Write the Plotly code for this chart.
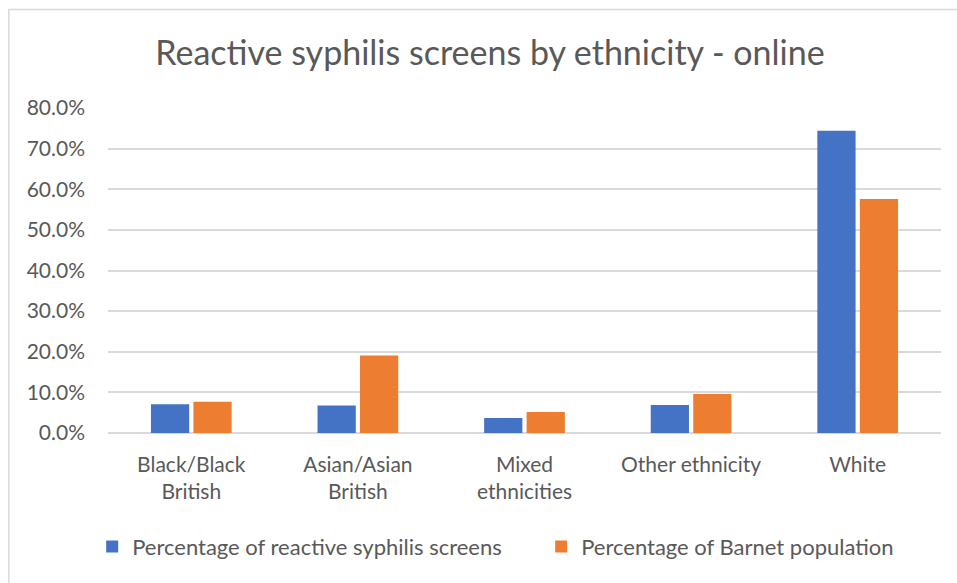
import plotly.graph_objects as go

categories = ["Black/Black<br>British", "Asian/Asian<br>British", "Mixed<br>ethnicities",
              "Other ethnicity", "White"]
reactive_screens = [7.1, 6.8, 3.7, 6.9, 74.4]
barnet_population = [7.7, 19.1, 5.2, 9.6, 57.6]
y_ticks = [0, 10, 20, 30, 40, 50, 60, 70, 80]
y_tick_labels = [f"{v:.1f}%" for v in y_ticks]

FONT = "Lato, 'Open Sans', sans-serif"
GREY = "#595959"

fig = go.Figure()
fig.add_trace(go.Bar(x=categories, y=reactive_screens,
                     name="Percentage of reactive syphilis screens",
                     marker=dict(color="#4472C4", line=dict(width=0)),
                     legend="legend"))
fig.add_trace(go.Bar(x=categories, y=barnet_population,
                     name="Percentage of Barnet population",
                     marker=dict(color="#ED7D31", line=dict(width=0)),
                     legend="legend2"))

legend_style = dict(orientation="h", xanchor="left", y=-0.35, yanchor="middle",
                    font=dict(family=FONT, size=22, color=GREY), itemwidth=30)

fig.update_layout(
    width=957, height=583,
    margin=dict(l=108, r=16, t=108, b=150),
    paper_bgcolor="white", plot_bgcolor="white",
    barmode="group", bargap=0.49, bargroupgap=0.1,
    title=dict(text="Reactive syphilis screens by ethnicity - online",
               x=0.512, xanchor="center", y=0.909, yanchor="middle",
               font=dict(family=FONT, size=34, color=GREY)),
    font=dict(family=FONT, size=21, color=GREY),
    legend=dict(x=-0.019, **legend_style),
    legend2=dict(x=0.52, **legend_style),
    showlegend=True,
)
fig.update_xaxes(showgrid=False, showline=False, ticks="", zeroline=False,
                 ticklabelstandoff=17,
                 tickfont=dict(family=FONT, size=21, color=GREY))
fig.update_yaxes(range=[0, 80], tickvals=y_ticks, ticktext=y_tick_labels,
                 showgrid=True, gridcolor="#d9d9d9", gridwidth=1.5,
                 zeroline=True, zerolinecolor="#d9d9d9", zerolinewidth=1.5,
                 showline=False, ticklabelstandoff=22,
                 tickfont=dict(family=FONT, size=21, color=GREY))

# outer chart frame
fig.add_shape(type="rect", xref="paper", yref="paper",
              x0=-0.119, x1=1.1, y0=-0.55, y1=1.303,
              line=dict(color="#d9d9d9", width=1.5), fillcolor="rgba(0,0,0,0)",
              layer="below")

fig.write_html("out.html")
